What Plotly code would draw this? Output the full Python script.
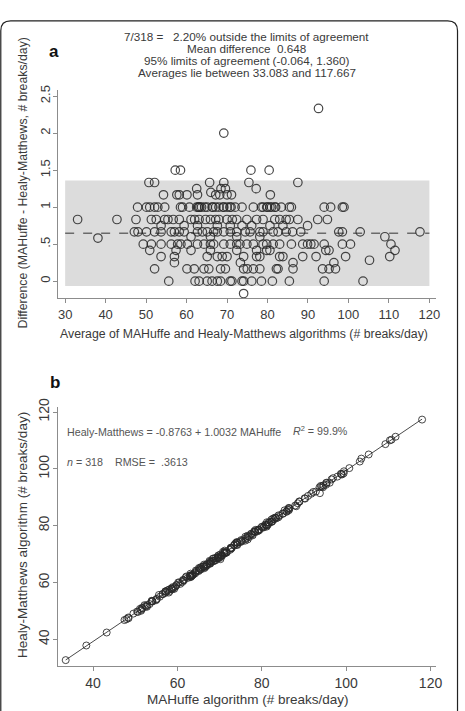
import plotly.graph_objects as go

# Panel a: Bland-Altman data, averages (# breaks/day) grouped by difference level
diff_levels = [2.333, 2.0, 1.5, 1.333, 1.25, 1.2, 1.167, 1.0, 0.833, 0.75, 0.667,
               0.6, 0.583, 0.5, 0.417, 0.333, 0.283, 0.25, 0.167, 0.0, -0.167]
avg_2_333 = [92.6]
avg_2_0 = [69.2]
avg_1_5 = [57.2, 58.5, 75.9, 80.4]
avg_1_333 = [50.7, 52.1, 65.7, 69.2, 75.4, 87.5]
avg_1_25 = [62.5, 68.5, 69.6, 77.2]
avg_1_2 = [66.0]
avg_1_167 = [54.3, 57.6, 58.2, 60.1, 62.7, 67.2, 68.2, 70.0, 71.1, 80.7]
avg_1_0 = [47.9, 50.1, 50.9, 52.1, 52.9, 54.6, 58.5, 59.0, 60.7, 62.5, 62.9, 63.0,
           63.3, 63.7, 64.5, 65.1, 66.3, 66.5, 67.2, 68.0, 69.0, 69.2, 70.0, 70.7,
           71.0, 72.0, 73.7, 76.5, 78.5, 78.9, 79.8, 80.0, 80.6, 81.0, 81.8, 82.0,
           83.4, 85.4, 85.9, 94.0, 95.6, 98.5, 98.9]
avg_0_833 = [33.083, 42.8, 47.5, 51.3, 52.5, 54.6, 55.4, 56.7, 58.2, 61.1, 62.0,
             63.1, 64.7, 65.9, 67.2, 68.0, 70.0, 71.3, 72.4, 74.9, 77.3, 78.9,
             81.8, 83.0, 84.6, 85.4, 87.5, 92.4, 94.8]
avg_0_75 = [53.7, 59.4, 62.7, 67.6, 70.8, 73.7, 76.1, 80.6, 83.8, 89.9]
avg_0_667 = [47.1, 48.0, 50.1, 52.1, 53.7, 56.2, 57.0, 58.2, 59.4, 62.7, 63.9,
             65.1, 66.7, 67.6, 69.2, 70.8, 72.4, 74.5, 75.7, 78.1, 78.9, 81.4,
             82.6, 84.6, 86.2, 88.2, 97.6, 98.5, 102.9, 117.667]
avg_0_6 = [61.1, 65.9, 72.4, 78.1, 109.0]
avg_0_583 = [38.1]
avg_0_5 = [49.3, 51.3, 53.7, 56.2, 57.8, 58.6, 60.2, 62.7, 64.3, 65.9, 66.7,
           69.2, 70.8, 72.4, 73.2, 74.9, 76.5, 78.9, 79.8, 81.4, 83.0, 85.9,
           88.7, 89.9, 90.7, 91.5, 94.0, 98.5, 100.5, 110.5]
avg_0_417 = [50.9, 57.4, 61.1, 65.9, 72.4, 77.3, 79.8, 80.6, 94.4, 95.2, 111.5]
avg_0_333 = [53.7, 57.0, 65.1, 67.6, 68.8, 70.0, 74.1, 77.3, 78.1, 83.0, 83.8,
             88.7, 92.0, 99.3, 110.2]
avg_0_283 = [105.2]
avg_0_25 = [57.0, 73.3, 86.3, 96.4]
avg_0_167 = [52.1, 60.1, 61.9, 64.3, 65.5, 68.4, 69.6, 74.1, 75.0, 76.5, 78.1,
             82.2, 82.6, 86.3, 93.6, 95.2, 96.8]
avg_0_0 = [55.6, 62.1, 63.1, 65.1, 66.3, 67.6, 68.4, 70.8, 71.2, 73.7, 74.1,
           76.1, 78.5, 81.2, 85.4, 94.0, 103.6]
avg_m0_167 = [74.1]

avg_groups = [avg_2_333, avg_2_0, avg_1_5, avg_1_333, avg_1_25, avg_1_2, avg_1_167,
              avg_1_0, avg_0_833, avg_0_75, avg_0_667, avg_0_6, avg_0_583, avg_0_5,
              avg_0_417, avg_0_333, avg_0_283, avg_0_25, avg_0_167, avg_0_0, avg_m0_167]

mean_diff = 0.648
loa_low, loa_high = -0.064, 1.360
fit_intercept, fit_slope = -0.8763, 1.0032

avg_all, diff_all = [], []
for lvl, grp in zip(diff_levels, avg_groups):
    avg_all += grp
    diff_all += [lvl] * len(grp)

# panel b: same observations back on the original scales
mahuffe = [a + d / 2 for a, d in zip(avg_all, diff_all)]
healy = [a - d / 2 for a, d in zip(avg_all, diff_all)]
fit_x = [min(mahuffe), max(mahuffe)]
fit_y = [fit_intercept + fit_slope * v for v in fit_x]

W, H = 465, 711
def px(x):
    return x / W
def py(y):
    return 1 - y / H

FONT = "Liberation Sans, Arial, sans-serif"
TXT = "#3a3a3a"
AX = "#8c8c8c"

fig = go.Figure()

# agreement band + mean line
fig.add_shape(type="rect", xref="x", yref="y", x0=30, x1=120, y0=loa_low, y1=loa_high,
              fillcolor="#dcdcdc", line_width=0, layer="below")
fig.add_shape(type="line", xref="x", yref="y", x0=30, x1=120, y0=mean_diff, y1=mean_diff,
              line=dict(color="#6a6a6a", width=1.6, dash="dash"), layer="below")

fig.add_trace(go.Scatter(x=avg_all, y=diff_all, mode="markers", xaxis="x", yaxis="y",
                         marker=dict(symbol="circle-open", size=8.5,
                                     color="rgba(40,40,40,0.85)", line=dict(width=1.2)),
                         showlegend=False))

fig.add_trace(go.Scatter(x=fit_x, y=fit_y, mode="lines", xaxis="x2", yaxis="y2",
                         line=dict(color="#4a4a4a", width=1), showlegend=False))
fig.add_trace(go.Scatter(x=mahuffe, y=healy, mode="markers", xaxis="x2", yaxis="y2",
                         marker=dict(symbol="circle-open", size=7,
                                     color="rgba(40,40,40,0.85)", line=dict(width=1)),
                         showlegend=False))

axis_common = dict(showgrid=False, zeroline=False, showline=True, linecolor=AX,
                   linewidth=1, ticks="outside", ticklen=4, tickcolor=AX,
                   tickfont=dict(family=FONT, color=TXT))

fig.update_layout(
    width=W, height=H, margin=dict(l=0, r=0, t=0, b=0),
    paper_bgcolor="white", plot_bgcolor="white",
    font=dict(family=FONT, color=TXT),
    xaxis=dict(axis_common, domain=[px(58.7), px(441.7)], range=[28.22, 121.63],
               anchor="y", tickvals=list(range(30, 121, 10)),
               tickfont=dict(family=FONT, color=TXT, size=13)),
    yaxis=dict(axis_common, domain=[py(293), py(82)], range=[-0.231, 2.583],
               anchor="x", tickvals=[0, 0.5, 1, 1.5, 2, 2.5],
               ticktext=["0", ".5", "1", "1.5", "2", "2.5"], tickangle=-90,
               ticklabelstandoff=-2,
               tickfont=dict(family=FONT, color=TXT, size=13)),
    xaxis2=dict(axis_common, domain=[px(58.7), px(441.7)], range=[31.66, 121.3],
                anchor="y2", tickvals=[40, 60, 80, 100, 120],
                tickfont=dict(family=FONT, color=TXT, size=14)),
    yaxis2=dict(axis_common, domain=[py(665.7), py(403)], range=[30.5, 121.8],
                anchor="x2", tickvals=[40, 60, 80, 100, 120], tickangle=-90,
                ticklabelstandoff=-2,
                tickfont=dict(family=FONT, color=TXT, size=14)),
)

# rounded frame round the whole figure
rx, ry = 10 / W, 10 / H
x0, x1, y0, y1 = px(0.8), px(463.5), py(735), py(12)
frame = (f"M {x0} {y0} L {x0} {y1 - ry} Q {x0} {y1} {x0 + rx} {y1} "
         f"L {x1 - rx} {y1} Q {x1} {y1} {x1} {y1 - ry} L {x1} {y0}")
fig.add_shape(type="path", xref="paper", yref="paper", path=frame,
              line=dict(color="#222222", width=1.2))

ann = []
head = ["7/318 =   2.20% outside the limits of agreement",
        "Mean difference  0.648",
        "95% limits of agreement (-0.064, 1.360)",
        "Averages lie between 33.083 and 117.667"]
for i, t in enumerate(head):
    ann.append(dict(text=t, x=px(250), y=py(27.7 + 12.2 * i), font=dict(size=11.7, color=TXT)))

eq_font = dict(size=10.7, color="#555")
ann += [
    dict(text="<b>a</b>", x=px(54.5), y=py(43), font=dict(size=17, color="#111")),
    dict(text="<b>b</b>", x=px(56), y=py(378), font=dict(size=17, color="#111")),
    dict(text="Difference (MAHuffe - Healy-Matthews, # breaks/day)", x=px(23), y=py(176),
         textangle=-90, font=dict(size=12.3, color=TXT)),
    dict(text="Average of MAHuffe and Healy-Matthews algorithms (# breaks/day)",
         x=px(247), y=py(329), font=dict(size=12.3, color=TXT)),
    dict(text="Healy-Matthews algorithm (# breaks/day)", x=px(23), y=py(533),
         textangle=-90, font=dict(size=13.5, color=TXT)),
    dict(text="MAHuffe algorithm (# breaks/day)", x=px(251), y=py(699),
         font=dict(size=13.5, color=TXT)),
    dict(text="Healy-Matthews = -0.8763 + 1.0032 MAHuffe",
         x=px(65.5), y=py(428), xanchor="left", font=eq_font),
    dict(text="<i>R</i><sup>2</sup> = 99.9%",
         x=px(295), y=py(427), xanchor="left", font=eq_font),
    dict(text="<i>n</i> = 318", x=px(65.5), y=py(459), xanchor="left", font=eq_font),
    dict(text="RMSE =  .3613", x=px(114), y=py(459), xanchor="left", font=eq_font),
]
for a in ann:
    a.update(xref="paper", yref="paper", showarrow=False, yanchor="middle")
    a.setdefault("xanchor", "center")
fig.update_layout(annotations=ann)

# page body has a default 8px margin; drop it so the 465x711 figure fills the window
fig.write_html("out.html", config={"displayModeBar": False},
               post_script="document.body.style.margin='0px';")
